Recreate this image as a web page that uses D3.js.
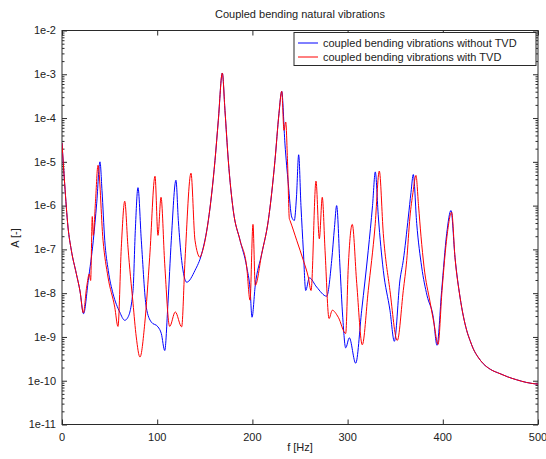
<!DOCTYPE html>
<html><head><meta charset="utf-8">
<script src="https://cdn.jsdelivr.net/npm/d3@7"></script>
<style>body{margin:0;background:#fff}svg{display:block}text{font-family:"Liberation Sans",Arial,sans-serif;fill:#222}</style>
</head><body>
<script>
const title = "Coupled bending natural vibrations";
const xLabel = "f [Hz]";
const yLabel = "A [-]";
const seriesNames = ["coupled bending vibrations without TVD", "coupled bending vibrations with TVD"];
const xTicks = [0, 100, 200, 300, 400, 500];
const yTicks = [1e-11, 1e-10, 1e-9, 1e-8, 1e-7, 1e-6, 1e-5, 1e-4, 1e-3, 1e-2];
const yTickLabels = ["1e-11", "1e-10", "1e-9", "1e-8", "1e-7", "1e-6", "1e-5", "1e-4", "1e-3", "1e-2"];

// without TVD (blue)
const fWithout = [0, 2.8, 6.3, 9.8, 15.0, 18.9, 22.6, 27.6, 32.9, 36.4, 39.9, 42.0, 44.9, 48.6, 53.6, 60.6, 65.9, 69.3, 74.6, 77.0, 79.8, 83.3, 88.5, 93.8, 100.8, 104.3, 107.9, 111.3, 114.8, 119.7, 122.2, 125.7, 131.0, 139.7, 146.7, 153.7, 160.7, 164.2, 168.4, 171.2, 174.7, 179.9, 187.0, 194.0, 197.5, 199.6, 203.0, 209.8, 216.7, 223.7, 227.9, 230.8, 234.2, 237.7, 241.3, 244.0, 246.3, 248.6, 251.0, 253.5, 256.0, 259.8, 267.5, 278.0, 283.3, 286.2, 288.5, 292.0, 294.9, 298.0, 301.8, 308.5, 314.8, 321.7, 326.2, 329.1, 332.3, 337.5, 344.5, 349.1, 355.0, 358.5, 363.8, 366.6, 369.0, 372.6, 377.8, 383.4, 390.0, 393.9, 398.8, 404.1, 408.6, 412.8, 418.1, 425.1, 428.6, 432.0, 437.0, 442.5, 450.0, 460.1, 468.0, 477.6, 488.0, 500];
const aWithout = [2.69e-5, 3.16e-6, 3.24e-7, 9.55e-8, 2.82e-8, 1.12e-8, 3.39e-9, 1.95e-8, 1.62e-7, 1.10e-6, 1.0e-5, 2.24e-6, 1.62e-7, 3.31e-8, 9.77e-9, 3.72e-9, 2.40e-9, 2.82e-9, 1.15e-8, 2.69e-7, 2.57e-6, 1.62e-7, 4.79e-9, 2.19e-9, 1.70e-9, 1.20e-9, 4.90e-10, 5.89e-9, 1.62e-7, 3.80e-6, 4.57e-7, 5.62e-8, 1.78e-8, 3.31e-8, 7.94e-8, 4.57e-7, 1.07e-5, 8.91e-5, 1.07e-3, 1.48e-4, 1.07e-5, 7.76e-7, 1.62e-7, 3.98e-8, 1.26e-8, 2.82e-9, 1.51e-8, 7.94e-8, 4.57e-7, 1.07e-5, 1.26e-4, 4.07e-4, 2.57e-5, 3.16e-6, 5.50e-7, 4.57e-7, 1.58e-6, 1.45e-5, 1.0e-6, 9.55e-8, 1.15e-8, 2.24e-8, 1.38e-8, 8.51e-9, 5.62e-8, 3.16e-7, 1.0e-6, 3.98e-8, 2.82e-9, 5.62e-10, 9.55e-10, 2.51e-10, 4.07e-9, 9.55e-8, 1.0e-6, 5.89e-6, 5.50e-7, 3.31e-8, 4.07e-9, 7.94e-10, 2.0e-8, 5.62e-8, 5.50e-7, 2.0e-6, 5.13e-6, 3.89e-7, 3.98e-8, 8.91e-9, 2.82e-9, 6.46e-10, 1.15e-8, 2.29e-7, 7.76e-7, 6.61e-8, 8.13e-9, 1.41e-9, 8.32e-10, 5.37e-10, 3.47e-10, 2.45e-10, 1.82e-10, 1.45e-10, 1.23e-10, 1.05e-10, 9.12e-11, 8.32e-11];

// with TVD (red)
const fWith = [0, 2.8, 6.3, 9.8, 15.0, 18.9, 22.4, 25.9, 28.7, 30.1, 31.8, 32.9, 35.2, 37.8, 43.1, 48.3, 55.4, 58.8, 62.3, 65.9, 69.3, 74.6, 78.0, 81.9, 86.9, 92.1, 97.7, 100.8, 104.0, 107.9, 113.1, 119.0, 125.7, 129.2, 135.5, 139.7, 145.0, 146.7, 153.7, 160.7, 164.2, 168.4, 171.2, 174.7, 179.9, 187.0, 194.0, 197.5, 200.6, 203.0, 209.8, 216.7, 223.7, 227.9, 230.8, 233.2, 235.0, 236.9, 238.8, 239.5, 246.5, 253.5, 258.7, 261.6, 266.8, 270.3, 273.4, 276.3, 280.5, 283.9, 290.2, 298.0, 300.7, 304.9, 309.6, 315.4, 321.7, 328.8, 333.3, 337.5, 344.5, 352.2, 358.5, 362.1, 365.5, 368.7, 371.8, 374.5, 377.1, 380.3, 386.6, 390.8, 395.0, 399.2, 404.4, 409.3, 412.8, 418.1, 425.1, 428.6, 432.0, 437.0, 442.5, 450.0, 460.1, 468.0, 477.6, 488.0, 500];
const aWith = [2.69e-5, 3.16e-6, 3.24e-7, 9.55e-8, 2.82e-8, 1.12e-8, 3.55e-9, 1.38e-8, 2.75e-8, 1.95e-8, 5.62e-7, 2.09e-7, 1.26e-6, 8.32e-6, 1.62e-7, 2.34e-8, 4.79e-9, 1.74e-9, 1.12e-7, 1.26e-6, 1.12e-7, 5.89e-9, 1.0e-9, 3.47e-10, 2.0e-9, 6.61e-8, 4.68e-6, 2.09e-7, 1.55e-6, 4.68e-8, 1.74e-9, 3.72e-9, 1.70e-9, 5.62e-8, 5.50e-6, 1.62e-7, 6.61e-8, 7.94e-8, 4.57e-7, 1.07e-5, 8.91e-5, 1.07e-3, 1.48e-4, 1.07e-5, 7.76e-7, 1.62e-7, 3.98e-8, 6.92e-9, 3.72e-7, 1.51e-8, 7.94e-8, 4.57e-7, 1.07e-5, 1.26e-4, 4.07e-4, 5.25e-5, 8.13e-5, 1.0e-5, 5.01e-7, 4.57e-7, 1.62e-7, 5.62e-8, 2.34e-8, 1.15e-8, 3.63e-6, 1.74e-7, 1.55e-6, 9.55e-8, 2.63e-9, 4.07e-9, 2.82e-9, 1.20e-9, 3.98e-8, 3.72e-7, 1.66e-8, 6.61e-10, 1.15e-8, 3.31e-7, 6.17e-6, 2.29e-7, 1.15e-8, 8.32e-10, 1.15e-8, 5.62e-8, 5.50e-7, 2.0e-6, 4.90e-6, 1.0e-6, 2.0e-7, 3.98e-8, 6.31e-9, 2.0e-9, 6.76e-10, 1.15e-8, 2.0e-7, 7.08e-7, 6.61e-8, 8.13e-9, 1.41e-9, 8.32e-10, 5.37e-10, 3.47e-10, 2.45e-10, 1.82e-10, 1.45e-10, 1.23e-10, 1.05e-10, 9.12e-11, 8.32e-11];

const W = 546, H = 459;
const m = {l: 62, r: 538, t: 30.5, b: 424.5};
const svg = d3.select("body").append("svg").attr("width", W).attr("height", H);
const x = d3.scaleLinear().domain([0, 500]).range([m.l, m.r]);
const y = d3.scaleLog().domain([1e-11, 1e-2]).range([m.b, m.t]);

const axisColor = "#2a2a2a";
// minor ticks
const minor = [];
for (let e = -11; e < -2; e++) for (let k = 2; k <= 9; k++) minor.push(k * Math.pow(10, e));

const gL = svg.append("g").attr("transform", `translate(${m.l},0)`)
  .call(d3.axisRight(y).tickValues(minor).tickSize(2.5).tickFormat(""));
const gR = svg.append("g").attr("transform", `translate(${m.r},0)`)
  .call(d3.axisLeft(y).tickValues(minor).tickSize(2.5).tickFormat(""));
const gL2 = svg.append("g").attr("transform", `translate(${m.l},0)`)
  .call(d3.axisRight(y).tickValues(yTicks).tickSize(5).tickFormat(""));
const gR2 = svg.append("g").attr("transform", `translate(${m.r},0)`)
  .call(d3.axisLeft(y).tickValues(yTicks).tickSize(5).tickFormat(""));
const gB = svg.append("g").attr("transform", `translate(0,${m.b})`)
  .call(d3.axisTop(x).tickValues(xTicks).tickSize(5).tickFormat(""));
const gT = svg.append("g").attr("transform", `translate(0,${m.t})`)
  .call(d3.axisBottom(x).tickValues(xTicks).tickSize(5).tickFormat(""));
[gL, gR, gL2, gR2, gB, gT].forEach(g => {
  g.select(".domain").remove();
  g.selectAll("line").attr("stroke", axisColor).attr("stroke-width", 1);
});

// tick labels
svg.append("g").selectAll("text").data(yTicks).join("text")
  .attr("x", m.l - 6).attr("y", d => y(d)).attr("dy", "0.35em")
  .attr("text-anchor", "end").attr("font-size", 11)
  .text((d, i) => yTickLabels[i]);
svg.append("g").selectAll("text").data(xTicks).join("text")
  .attr("x", d => x(d)).attr("y", m.b + 13).attr("dy", "0.35em")
  .attr("text-anchor", "middle").attr("font-size", 11)
  .text(d => d);

// frame
svg.append("rect").attr("x", m.l).attr("y", m.t).attr("width", m.r - m.l).attr("height", m.b - m.t)
  .attr("fill", "none").attr("stroke", axisColor).attr("stroke-width", 1);

// lines
svg.append("clipPath").attr("id", "clip").append("rect")
  .attr("x", m.l).attr("y", m.t).attr("width", m.r - m.l).attr("height", m.b - m.t);
const line = d3.line().x(d => x(d[0])).y(d => y(d[1])).curve(d3.curveMonotoneX);
const blueData = fWithout.map((f, i) => [f, aWithout[i]]);
const redData = fWith.map((f, i) => [f, aWith[i]]);
const gLines = svg.append("g").attr("clip-path", "url(#clip)");
gLines.append("path").attr("d", line(blueData)).attr("fill", "none").attr("stroke", "#0000ff").attr("stroke-width", 1);
gLines.append("path").attr("d", line(redData)).attr("fill", "none").attr("stroke", "#ff0000").attr("stroke-width", 1);

// title & labels
svg.append("text").attr("x", (m.l + m.r) / 2).attr("y", 14).attr("dy", "0.35em")
  .attr("text-anchor", "middle").attr("font-size", 11).text(title);
svg.append("text").attr("x", (m.l + m.r) / 2).attr("y", 447).attr("dy", "0.35em")
  .attr("text-anchor", "middle").attr("font-size", 11).text(xLabel);
svg.append("text").attr("transform", `translate(15,238) rotate(-90)`).attr("dy", "0.35em")
  .attr("text-anchor", "middle").attr("font-size", 11).text(yLabel);

// legend
const lg = svg.append("g");
lg.append("rect").attr("x", 294).attr("y", 32.5).attr("width", 242).attr("height", 33)
  .attr("fill", "#fff").attr("stroke", axisColor).attr("stroke-width", 1);
const colors = ["#0000ff", "#ff0000"];
seriesNames.forEach((n, i) => {
  const yy = 43 + i * 14;
  lg.append("line").attr("x1", 298).attr("x2", 318).attr("y1", yy).attr("y2", yy)
    .attr("stroke", colors[i]).attr("stroke-width", 1);
  lg.append("text").attr("x", 323).attr("y", yy).attr("dy", "0.35em").attr("font-size", 11).text(n);
});
</script>
</body></html>
